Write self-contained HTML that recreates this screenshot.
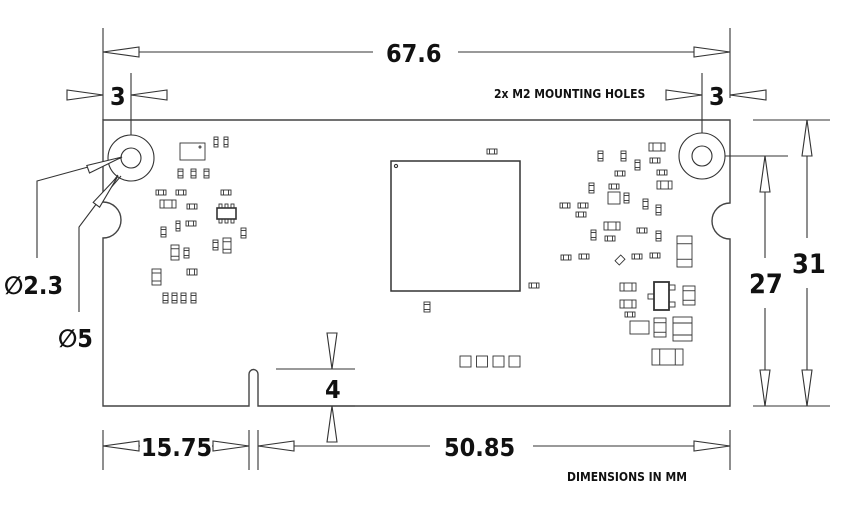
<!DOCTYPE html>
<html><head><meta charset="utf-8"><style>
html,body{margin:0;padding:0;background:#fff;}
svg{display:block}
text{font-family:"DejaVu Sans Condensed","DejaVu Sans","Liberation Sans",sans-serif;font-weight:bold;fill:#111}
</style></head><body>
<svg id="s" width="860" height="506" viewBox="0 0 860 506" xmlns="http://www.w3.org/2000/svg" fill="none" stroke="#333" stroke-width="1.1">
<!-- board outline -->
<path d="M103 120 H730 V203 A18 18 0 0 0 730 239 V406 H258 V374 A4.5 4.5 0 0 0 249 374 V406 H103 V238 A18 18 0 0 0 103 202 Z" stroke="#444" stroke-width="1.4"/>
<!-- holes -->
<circle cx="131" cy="158" r="23"/><circle cx="131" cy="158" r="10"/>
<circle cx="702" cy="156" r="23"/><circle cx="702" cy="156" r="10"/>
<!-- chip -->
<rect x="391" y="161" width="129" height="130" stroke-width="1.5"/>
<circle cx="396" cy="166" r="1.6"/>
<!-- extension lines -->
<line x1="103" y1="28" x2="103" y2="120"/>
<line x1="730" y1="28" x2="730" y2="98"/>
<line x1="131" y1="73" x2="131" y2="135"/>
<line x1="702" y1="73" x2="702" y2="133"/>
<line x1="753" y1="120" x2="830" y2="120"/>
<line x1="753" y1="406" x2="830" y2="406"/>
<line x1="725" y1="156" x2="788" y2="156"/>
<line x1="276" y1="369" x2="355" y2="369"/>
<line x1="270" y1="406" x2="355" y2="406"/>
<line x1="103" y1="430" x2="103" y2="470"/>
<line x1="249" y1="430" x2="249" y2="470"/>
<line x1="258" y1="430" x2="258" y2="470"/>
<line x1="730" y1="430" x2="730" y2="470"/>
<!-- dimension lines -->
<line x1="103" y1="52" x2="373" y2="52"/><line x1="458" y1="52" x2="730" y2="52"/>
<line x1="103" y1="446" x2="140" y2="446"/><line x1="212" y1="446" x2="249" y2="446"/>
<line x1="258" y1="446" x2="430" y2="446"/><line x1="533" y1="446" x2="730" y2="446"/>
<line x1="807" y1="120" x2="807" y2="238"/><line x1="807" y1="288" x2="807" y2="406"/>
<line x1="765" y1="156" x2="765" y2="258"/><line x1="765" y1="308" x2="765" y2="406"/>
<line x1="96" y1="95" x2="103" y2="95"/><line x1="131" y1="95" x2="136" y2="95"/>
<line x1="697" y1="95" x2="702" y2="95"/><line x1="730" y1="95" x2="737" y2="95"/>
<!-- leaders -->
<polyline points="37,258 37,181 121,158"/>
<polyline points="79,312 79,227 118,175"/>
<line x1="88" y1="170" x2="122" y2="157"/>
<line x1="96" y1="205" x2="121" y2="176"/>
<g id="arrows" fill="#fff"></g>
<g id="parts" stroke-width="0.9"></g>
<!-- text -->
<text x="386" y="62" font-size="25" stroke="none">67.6</text>
<text x="110" y="105" font-size="25" stroke="none">3</text>
<text x="709" y="105" font-size="25" stroke="none">3</text>
<text x="494" y="98" font-size="12" stroke="none">2x M2 MOUNTING HOLES</text>
<text x="4" y="294" font-size="25" stroke="none">∅2.3</text>
<text x="58" y="347" font-size="25" stroke="none">∅5</text>
<text x="749" y="293" font-size="27" stroke="none">27</text>
<text x="792" y="273" font-size="27" stroke="none">31</text>
<text x="325" y="398" font-size="25" stroke="none">4</text>
<text x="141" y="456" font-size="25" stroke="none">15.75</text>
<text x="444" y="456" font-size="25" stroke="none">50.85</text>
<text x="567" y="481" font-size="12" stroke="none">DIMENSIONS IN MM</text>
</svg>
<script>
var NS="http://www.w3.org/2000/svg";
function el(p,t,a){var e=document.createElementNS(NS,t);for(var k in a)e.setAttribute(k,a[k]);p.appendChild(e);return e;}
var A=document.getElementById("arrows");
// arrow: tip (x,y), direction to base (dx,dy), length, half width
function ar(x,y,dx,dy,L,w){L=L||36;w=w||5;var bx=x+dx*L,by=y+dy*L,px=-dy*w,py=dx*w;
el(A,"polygon",{points:x+","+y+" "+(bx+px)+","+(by+py)+" "+(bx-px)+","+(by-py)});}
ar(103,52,1,0);ar(730,52,-1,0);
ar(103,95,-1,0);ar(131,95,1,0);ar(702,95,-1,0);ar(730,95,1,0);
ar(103,446,1,0);ar(249,446,-1,0,36);ar(258,446,1,0);ar(730,446,-1,0);
ar(807,120,0,1);ar(807,406,0,-1);ar(765,156,0,1);ar(765,406,0,-1);
ar(332,369,0,-1);ar(332,406,0,1);
ar(122,157,-0.94,0.34,36,4);ar(118,176,-0.6,0.8,36,4);
var P=document.getElementById("parts");
function pad(x,y,w,h){el(P,"rect",{x:x,y:y,width:w,height:h});
 if(w>h){el(P,"line",{x1:x+w*0.25,y1:y,x2:x+w*0.25,y2:y+h});el(P,"line",{x1:x+w*0.75,y1:y,x2:x+w*0.75,y2:y+h});}
 else{el(P,"line",{x1:x,y1:y+h*0.25,x2:x+w,y2:y+h*0.25});el(P,"line",{x1:x,y1:y+h*0.75,x2:x+w,y2:y+h*0.75});}}
var L=[[214,137,4,10],[224,137,4,10],[178,169,5,9],[191,169,5,9],[204,169,5,9],
[156,190,10,5],[176,190,10,5],[221,190,10,5],[160,200,16,8],[187,204,10,5],
[176,221,4,10],[186,221,10,5],[161,227,5,10],[241,228,5,10],[213,240,5,10],[223,238,8,15],
[171,245,8,15],[184,248,5,10],[187,269,10,6],[152,269,9,16],
[163,293,5,10],[172,293,5,10],[181,293,5,10],[191,293,5,10],
[649,143,16,8],[598,151,5,10],[621,151,5,10],[650,158,10,5],[635,160,5,10],[615,171,10,5],[657,170,10,5],
[589,183,5,10],[609,184,10,5],[657,181,15,8],[624,193,5,10],[560,203,10,5],[578,203,10,5],[576,212,10,5],
[643,199,5,10],[656,205,5,10],[604,222,16,8],[591,230,5,10],[605,236,10,5],[637,228,10,5],[656,231,5,10],
[677,236,15,31],[561,255,10,5],[579,254,10,5],[632,254,10,5],[650,253,10,5],
[620,283,16,8],[620,300,16,8],[625,312,10,5],[683,286,12,19],[654,318,12,19],[673,317,19,24],[652,349,31,16],
[487,149,10,5],[529,283,10,5],[424,302,6,10]];
L.forEach(function(r){pad(r[0],r[1],r[2],r[3]);});
el(P,"rect",{x:180,y:143,width:25,height:17});el(P,"circle",{cx:200,cy:147,r:1});
el(P,"rect",{x:608,y:192,width:12,height:12});
el(P,"rect",{x:630,y:321,width:19,height:13});
// SOT23-6
el(P,"rect",{x:217,y:208,width:19,height:11,"stroke-width":1.6});
[219,225,231].forEach(function(x){el(P,"rect",{x:x,y:204,width:3,height:4});el(P,"rect",{x:x,y:219,width:3,height:4});});
// SOT23
el(P,"rect",{x:654,y:282,width:15,height:28,"stroke-width":1.8});
el(P,"rect",{x:648,y:294,width:6,height:5});el(P,"rect",{x:669,y:285,width:6,height:5});el(P,"rect",{x:669,y:302,width:6,height:5});
el(P,"rect",{x:617,y:256,width:6,height:8,transform:"rotate(45 620 260)"});
[460,476.5,493,509].forEach(function(x){el(P,"rect",{x:x,y:356,width:11,height:11});});
</script>
</body></html>
